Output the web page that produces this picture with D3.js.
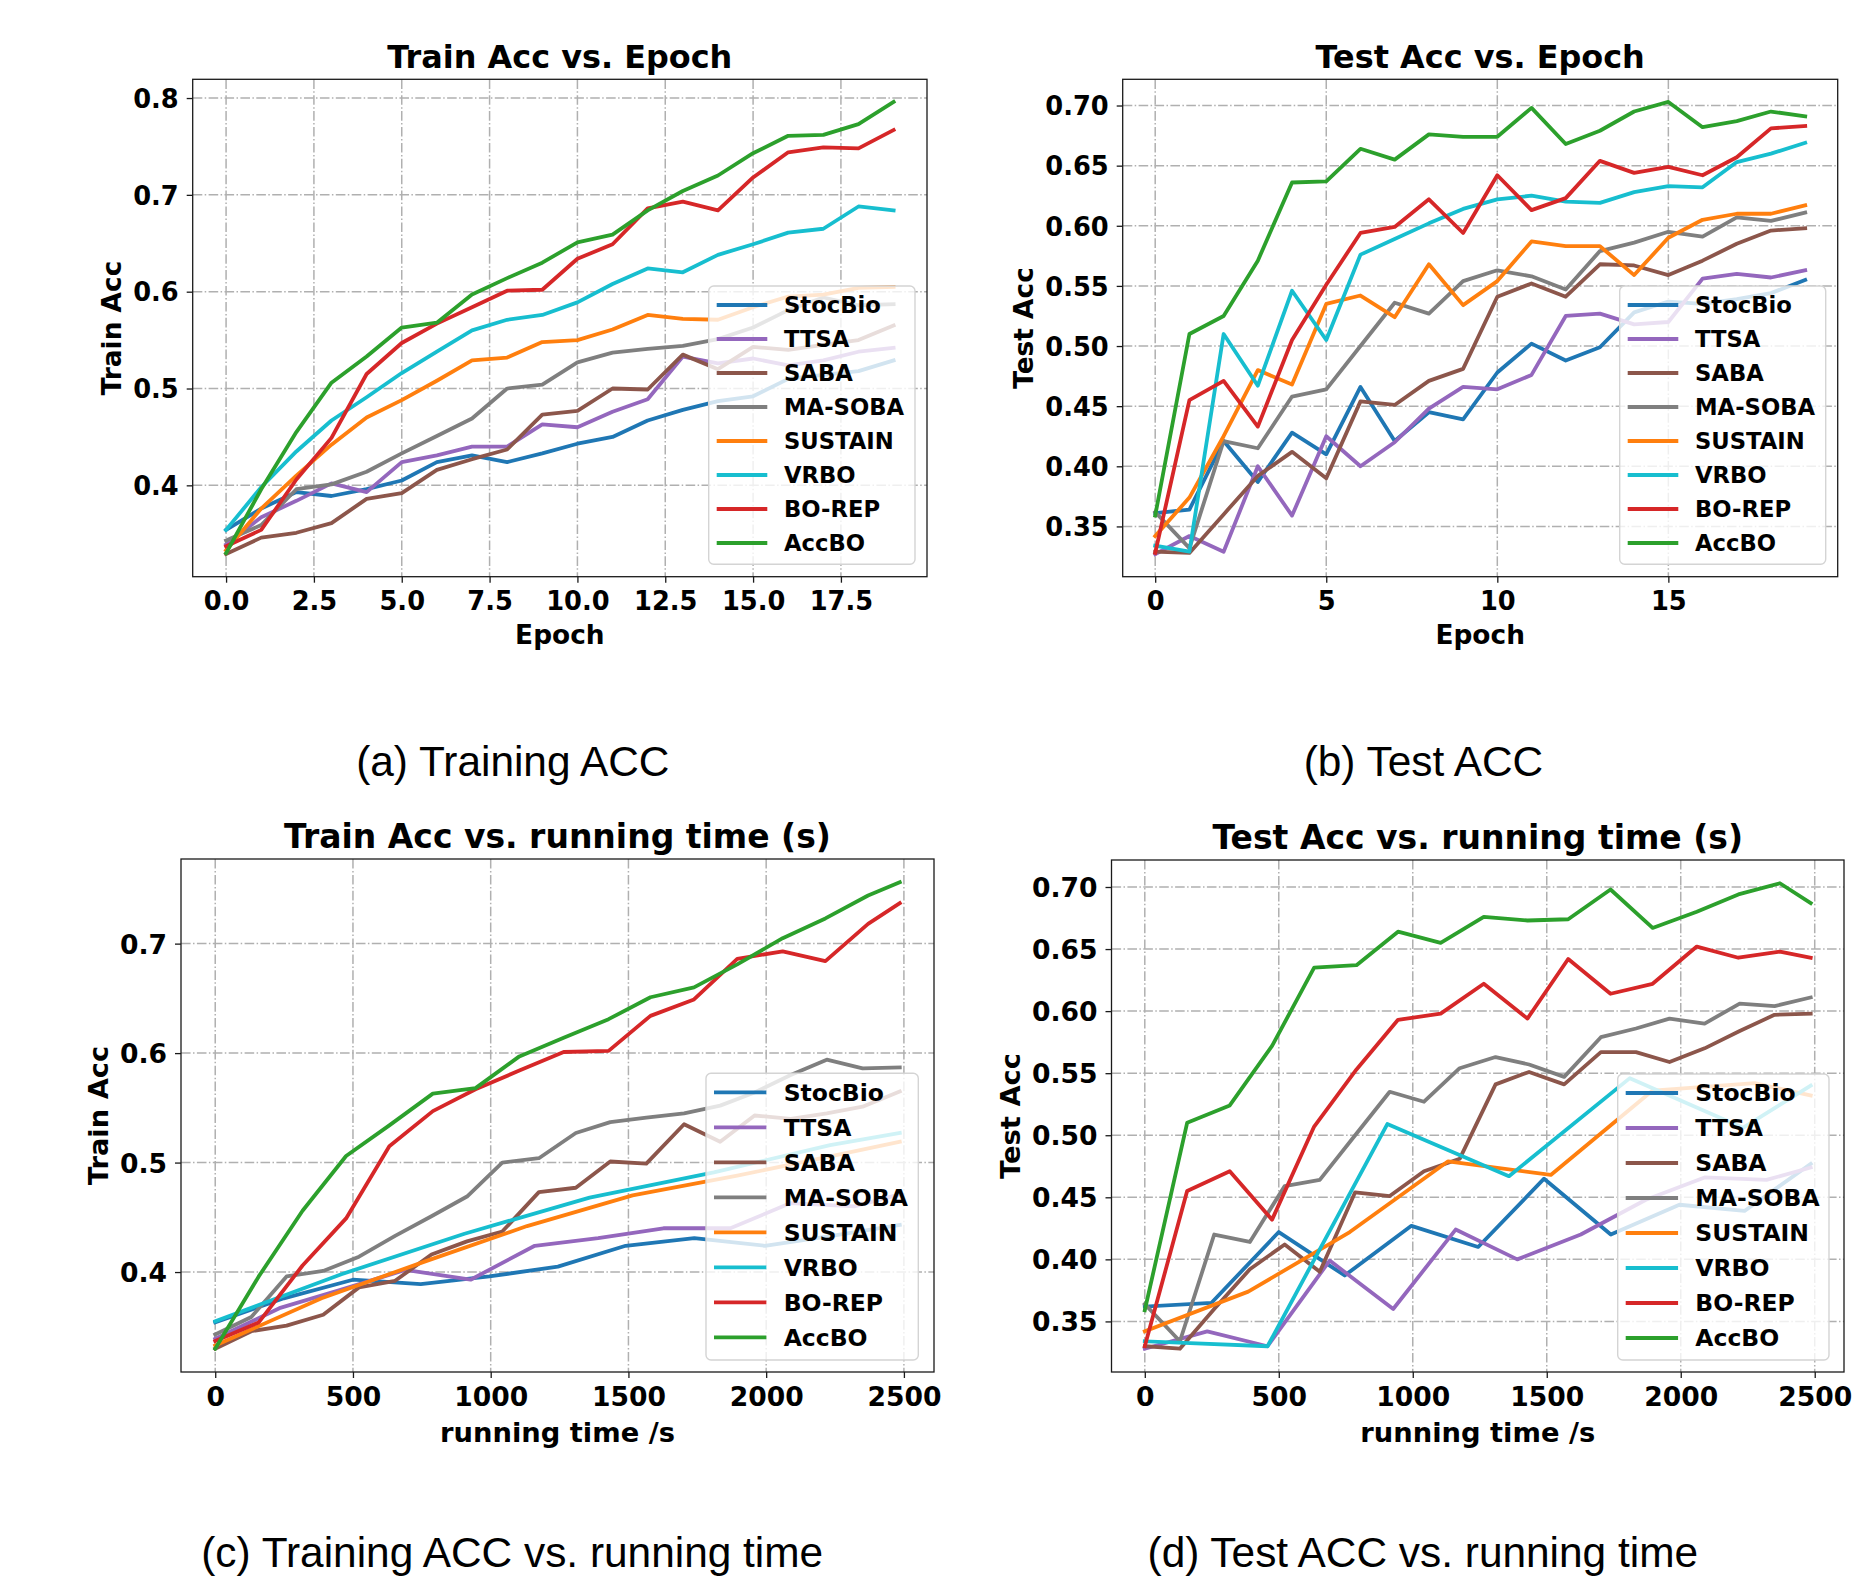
<!DOCTYPE html>
<html>
<head>
<meta charset="utf-8">
<script src="https://cdn.jsdelivr.net/npm/d3@7"></script>
<style>
body { margin: 0; background: #fff; }
svg { display: block; }
</style>
</head>
<body>
<svg id="fig"></svg>
<script>
// ---- data ----
const methods = ['StocBio', 'TTSA', 'SABA', 'MA-SOBA', 'SUSTAIN', 'VRBO', 'BO-REP', 'AccBO'];
const colors = ['#1f77b4', '#9467bd', '#8c564b', '#7f7f7f', '#ff7f0e', '#17becf', '#d62728', '#2ca02c'];

const epochs = [0, 1, 2, 3, 4, 5, 6, 7, 8, 9, 10, 11, 12, 13, 14, 15, 16, 17, 18, 19];

// (a) train acc per epoch, one row per method
const trainAccEpoch = [
    [0.354, 0.376, 0.393, 0.389, 0.396, 0.405, 0.424, 0.431, 0.424, 0.433, 0.443, 0.450, 0.467, 0.478, 0.487, 0.492, 0.510, 0.514, 0.518, 0.529],
    [0.339, 0.367, 0.384, 0.402, 0.393, 0.424, 0.431, 0.440, 0.440, 0.463, 0.460, 0.476, 0.489, 0.533, 0.526, 0.531, 0.524, 0.529, 0.538, 0.542],
    [0.329, 0.346, 0.351, 0.361, 0.386, 0.392, 0.416, 0.427, 0.437, 0.473, 0.477, 0.500, 0.499, 0.535, 0.520, 0.543, 0.540, 0.545, 0.550, 0.565],
    [0.343, 0.359, 0.396, 0.401, 0.414, 0.433, 0.451, 0.469, 0.500, 0.504, 0.527, 0.537, 0.541, 0.544, 0.551, 0.563, 0.581, 0.594, 0.586, 0.587],
    [0.333, 0.376, 0.410, 0.442, 0.470, 0.488, 0.508, 0.529, 0.532, 0.548, 0.550, 0.561, 0.576, 0.572, 0.571, 0.584, 0.595, 0.597, 0.604, 0.605],
    [0.354, 0.398, 0.435, 0.467, 0.491, 0.516, 0.538, 0.560, 0.571, 0.576, 0.589, 0.608, 0.624, 0.620, 0.638, 0.649, 0.661, 0.665, 0.688, 0.684],
    [0.337, 0.354, 0.406, 0.449, 0.515, 0.547, 0.567, 0.584, 0.601, 0.602, 0.634, 0.649, 0.686, 0.693, 0.684, 0.718, 0.744, 0.749, 0.748, 0.767],
    [0.330, 0.396, 0.455, 0.506, 0.533, 0.563, 0.568, 0.597, 0.614, 0.630, 0.651, 0.659, 0.684, 0.704, 0.720, 0.743, 0.761, 0.762, 0.773, 0.796]
];

// (b) test acc per epoch
const testAccEpoch = [
    [0.361, 0.364, 0.421, 0.387, 0.428, 0.410, 0.466, 0.421, 0.445, 0.439, 0.478, 0.502, 0.488, 0.499, 0.528, 0.537, 0.535, 0.539, 0.544, 0.555],
    [0.327, 0.342, 0.329, 0.400, 0.359, 0.425, 0.400, 0.420, 0.448, 0.466, 0.464, 0.476, 0.525, 0.527, 0.518, 0.520, 0.556, 0.560, 0.557, 0.563],
    [0.329, 0.328, 0.360, 0.392, 0.412, 0.390, 0.454, 0.451, 0.471, 0.481, 0.541, 0.552, 0.541, 0.568, 0.567, 0.559, 0.571, 0.585, 0.596, 0.598],
    [0.362, 0.332, 0.421, 0.415, 0.458, 0.464, 0.500, 0.536, 0.527, 0.554, 0.563, 0.558, 0.547, 0.579, 0.586, 0.595, 0.591, 0.607, 0.604, 0.611],
    [0.342, 0.374, 0.425, 0.480, 0.468, 0.535, 0.542, 0.524, 0.568, 0.534, 0.554, 0.587, 0.583, 0.583, 0.559, 0.590, 0.605, 0.610, 0.610, 0.617],
    [0.334, 0.329, 0.510, 0.467, 0.546, 0.505, 0.576, 0.589, 0.602, 0.614, 0.622, 0.625, 0.620, 0.619, 0.628, 0.633, 0.632, 0.653, 0.660, 0.669],
    [0.328, 0.455, 0.471, 0.433, 0.505, 0.551, 0.594, 0.599, 0.622, 0.594, 0.642, 0.613, 0.623, 0.654, 0.644, 0.649, 0.642, 0.657, 0.681, 0.683],
    [0.359, 0.510, 0.525, 0.571, 0.636, 0.637, 0.664, 0.655, 0.676, 0.674, 0.674, 0.698, 0.668, 0.679, 0.695, 0.703, 0.682, 0.687, 0.695, 0.691]
];

// running time (s) of each logged point, per method (cut at ~2500 s)
const runTime = [
    [0, 249, 500, 746, 995, 1244, 1490, 1739, 1995, 2238, 2485],
    [0, 233, 458, 690, 927, 1160, 1390, 1627, 1870, 2089, 2320, 2485],
    [0, 131, 259, 392, 522, 653, 785, 914, 1042, 1175, 1309, 1434, 1565, 1702, 1833, 1958, 2089, 2220, 2350, 2485],
    [0, 131, 259, 392, 522, 653, 785, 914, 1042, 1175, 1309, 1434, 1565, 1702, 1833, 1958, 2089, 2220, 2350, 2485],
    [0, 386, 765, 1132, 1515, 1895, 2276, 2485],
    [0, 458, 905, 1359, 1810, 2232, 2485],
    [0, 158, 317, 475, 632, 790, 945, 1104, 1265, 1428, 1580, 1738, 1895, 2060, 2215, 2370, 2485],
    [0, 158, 317, 475, 632, 790, 945, 1104, 1265, 1428, 1580, 1738, 1895, 2060, 2215, 2370, 2485]
];

// (c) train acc vs running time
const trainAccTime = [
    [0.354, 0.376, 0.393, 0.389, 0.396, 0.405, 0.424, 0.431, 0.424, 0.433, 0.443],
    [0.339, 0.367, 0.384, 0.402, 0.393, 0.424, 0.431, 0.440, 0.440, 0.463, 0.460, 0.471],
    [0.330, 0.346, 0.351, 0.361, 0.386, 0.392, 0.416, 0.428, 0.437, 0.473, 0.477, 0.501, 0.499, 0.535, 0.519, 0.543, 0.540, 0.545, 0.551, 0.565],
    [0.343, 0.359, 0.396, 0.401, 0.414, 0.433, 0.451, 0.469, 0.500, 0.504, 0.527, 0.537, 0.541, 0.545, 0.552, 0.564, 0.580, 0.594, 0.586, 0.587],
    [0.333, 0.376, 0.410, 0.442, 0.470, 0.488, 0.508, 0.519],
    [0.355, 0.398, 0.435, 0.468, 0.491, 0.516, 0.527],
    [0.337, 0.354, 0.406, 0.449, 0.515, 0.547, 0.567, 0.584, 0.601, 0.602, 0.634, 0.649, 0.686, 0.693, 0.684, 0.718, 0.737],
    [0.330, 0.396, 0.456, 0.506, 0.534, 0.563, 0.568, 0.597, 0.614, 0.631, 0.651, 0.660, 0.681, 0.705, 0.723, 0.744, 0.756]
];

// (d) test acc vs running time
const testAccTime = [
    [0.362, 0.365, 0.422, 0.387, 0.427, 0.410, 0.465, 0.420, 0.444, 0.439, 0.477],
    [0.328, 0.342, 0.330, 0.399, 0.360, 0.424, 0.400, 0.420, 0.448, 0.466, 0.464, 0.474],
    [0.330, 0.328, 0.360, 0.392, 0.412, 0.390, 0.454, 0.451, 0.471, 0.481, 0.541, 0.551, 0.541, 0.567, 0.567, 0.559, 0.570, 0.584, 0.597, 0.598],
    [0.364, 0.334, 0.420, 0.414, 0.459, 0.464, 0.500, 0.535, 0.527, 0.554, 0.563, 0.557, 0.547, 0.579, 0.586, 0.594, 0.590, 0.606, 0.604, 0.611],
    [0.342, 0.374, 0.422, 0.479, 0.468, 0.536, 0.542, 0.532],
    [0.334, 0.330, 0.509, 0.467, 0.546, 0.506, 0.540],
    [0.330, 0.455, 0.471, 0.432, 0.507, 0.553, 0.593, 0.598, 0.622, 0.594, 0.642, 0.614, 0.622, 0.652, 0.643, 0.648, 0.643],
    [0.359, 0.510, 0.524, 0.572, 0.635, 0.637, 0.664, 0.655, 0.676, 0.673, 0.674, 0.698, 0.667, 0.680, 0.694, 0.703, 0.687]
];

// tick values
const epochTicksA = [0, 2.5, 5, 7.5, 10, 12.5, 15, 17.5];
const epochTicksB = [0, 5, 10, 15];
const timeTicks = [0, 500, 1000, 1500, 2000, 2500];
const trainTicksA = [0.4, 0.5, 0.6, 0.7, 0.8];
const trainTicksC = [0.4, 0.5, 0.6, 0.7];
const testTicks = [0.35, 0.40, 0.45, 0.50, 0.55, 0.60, 0.65, 0.70];

const captions = ['(a) Training ACC', '(b) Test ACC', '(c) Training ACC vs. running time', '(d) Test ACC vs. running time'];

const FONT = '"DejaVu Sans", sans-serif';

class LineChart {
    constructor (config, data) {
        this.config = {
            parent: config.parent,
            left: config.left,
            top: config.top,
            width: config.width,
            height: config.height,
            title: config.title || '',
            xlabel: config.xlabel || '',
            ylabel: config.ylabel || '',
            xticks: config.xticks,
            yticks: config.yticks,
            xformat: config.xformat,
            yformat: config.yformat,
            scale: config.scale || 1,
            legend: config.legend
        };
        this.data = data;
        this.init();
    }

    init() {
        let self = this;
        const c = self.config;

        self.chart = c.parent.append('g')
            .attr('transform', `translate(${c.left}, ${c.top})`);

        self.grid_group = self.chart.append('g');
        self.line_group = self.chart.append('g');
        self.frame = self.chart.append('rect')
            .attr('width', c.width)
            .attr('height', c.height)
            .attr('fill', 'none')
            .attr('stroke', '#1a1a1a')
            .attr('stroke-width', 1.3);

        self.xaxis_group = self.chart.append('g')
            .attr('transform', `translate(0, ${c.height})`);
        self.yaxis_group = self.chart.append('g');
        self.legend_group = c.parent.append('g');

        self.xscale = d3.scaleLinear().range([0, c.width]);
        self.yscale = d3.scaleLinear().range([c.height, 0]);
    }

    update() {
        let self = this;

        // matplotlib style 5% margins around the data
        const xs = self.data.flatMap(d => d.x);
        const ys = self.data.flatMap(d => d.y);
        const [x0, x1] = d3.extent(xs);
        const [y0, y1] = d3.extent(ys);
        const xpad = (x1 - x0) * 0.05;
        const ypad = (y1 - y0) * 0.05;
        self.xscale.domain([x0 - xpad, x1 + xpad]);
        self.yscale.domain([y0 - ypad, y1 + ypad]);

        self.render();
    }

    render() {
        let self = this;
        const c = self.config;
        const s = c.scale;
        const tickFs = 25.7 * s;
        const labelFs = 26.4 * s;
        const titleFs = 31.9 * s;
        const legendFs = 22.7 * s;

        // grid
        const dash = '9.6,2.4,1.5,2.4';
        self.grid_group.selectAll('.vgrid')
            .data(c.xticks)
            .join('line')
            .attr('class', 'vgrid')
            .attr('x1', d => self.xscale(d))
            .attr('x2', d => self.xscale(d))
            .attr('y1', 0)
            .attr('y2', c.height)
            .attr('stroke', '#b0b0b0')
            .attr('stroke-width', 1.5)
            .attr('stroke-dasharray', dash);
        self.grid_group.selectAll('.hgrid')
            .data(c.yticks)
            .join('line')
            .attr('class', 'hgrid')
            .attr('x1', 0)
            .attr('x2', c.width)
            .attr('y1', d => self.yscale(d))
            .attr('y2', d => self.yscale(d))
            .attr('stroke', '#b0b0b0')
            .attr('stroke-width', 1.5)
            .attr('stroke-dasharray', dash);

        // series
        const line = d3.line()
            .x(p => self.xscale(p[0]))
            .y(p => self.yscale(p[1]));
        self.line_group.selectAll('path')
            .data(self.data)
            .join('path')
            .attr('d', d => line(d.x.map((v, i) => [v, d.y[i]])))
            .attr('fill', 'none')
            .attr('stroke', d => d.color)
            .attr('stroke-width', 3.8)
            .attr('stroke-linejoin', 'round')
            .attr('stroke-linecap', 'square');

        // axes
        self.xaxis = d3.axisBottom(self.xscale)
            .tickValues(c.xticks)
            .tickFormat(d3.format(c.xformat))
            .tickSize(6)
            .tickPadding(9 * s)
            .tickSizeOuter(0);
        self.yaxis = d3.axisLeft(self.yscale)
            .tickValues(c.yticks)
            .tickFormat(d3.format(c.yformat))
            .tickSize(6)
            .tickPadding(8)
            .tickSizeOuter(0);

        self.xaxis_group.call(self.xaxis);
        self.yaxis_group.call(self.yaxis);
        [self.xaxis_group, self.yaxis_group].forEach(g => {
            g.select('.domain').remove();
            g.selectAll('line').attr('stroke', '#1a1a1a').attr('stroke-width', 1.3);
            g.selectAll('text')
                .attr('fill', '#000')
                .style('font-family', FONT)
                .style('font-weight', 'bold')
                .style('font-size', tickFs + 'px');
        });
        self.yaxis_group.selectAll('text').attr('dy', '0.36em');

        // title and axis labels
        self.chart.append('text')
            .attr('x', c.width / 2)
            .attr('y', -11)
            .attr('text-anchor', 'middle')
            .style('font-family', FONT)
            .style('font-weight', 'bold')
            .style('font-size', titleFs + 'px')
            .text(c.title);

        self.chart.append('text')
            .attr('x', c.width / 2)
            .attr('y', c.height + 67.3 * s)
            .attr('text-anchor', 'middle')
            .style('font-family', FONT)
            .style('font-weight', 'bold')
            .style('font-size', labelFs + 'px')
            .text(c.xlabel);

        const ybox = self.yaxis_group.node().getBBox();
        self.chart.append('text')
            .attr('transform', `translate(${ybox.x - 12}, ${c.height / 2}) rotate(-90)`)
            .attr('text-anchor', 'middle')
            .style('font-family', FONT)
            .style('font-weight', 'bold')
            .style('font-size', labelFs + 'px')
            .text(c.ylabel);

        // legend
        const L = c.legend;
        self.legend_group.append('rect')
            .attr('x', L.x)
            .attr('y', L.y)
            .attr('width', L.w)
            .attr('height', L.h)
            .attr('rx', 5)
            .attr('fill', 'rgba(255,255,255,0.8)')
            .attr('stroke', '#d4d4d4')
            .attr('stroke-width', 1.4);

        const entries = self.legend_group.selectAll('.entry')
            .data(self.data)
            .join('g')
            .attr('class', 'entry')
            .attr('transform', (d, i) => `translate(${L.x + 8}, ${L.row0 + i * L.dy})`);
        entries.append('line')
            .attr('x1', 0)
            .attr('x2', 50.6 * s)
            .attr('stroke', d => d.color)
            .attr('stroke-width', 3.8);
        entries.append('text')
            .attr('x', 67.3 * s)
            .attr('dy', '0.36em')
            .style('font-family', FONT)
            .style('font-weight', 'bold')
            .style('font-size', legendFs + 'px')
            .text(d => d.name);
    }
}

const svg = d3.select('#fig')
    .attr('width', 1870)
    .attr('height', 1578);

svg.append('rect').attr('width', 1870).attr('height', 1578).attr('fill', '#fff');

function series(xs, values) {
    return methods.map((name, i) => ({
        name: name,
        color: colors[i],
        x: Array.isArray(xs[0]) ? xs[i] : xs,
        y: values[i]
    }));
}

const chartA = new LineChart({
    parent: svg, left: 192.7, top: 79.3, width: 734.3, height: 497.4,
    title: 'Train Acc vs. Epoch', xlabel: 'Epoch', ylabel: 'Train Acc',
    xticks: epochTicksA, yticks: trainTicksA, xformat: '.1f', yformat: '.1f',
    legend: {x: 708.7, y: 286, w: 206.3, h: 278.3, row0: 305, dy: 34}
}, series(epochs, trainAccEpoch));
chartA.update();

const chartB = new LineChart({
    parent: svg, left: 1122.7, top: 79.3, width: 715, height: 497.4,
    title: 'Test Acc vs. Epoch', xlabel: 'Epoch', ylabel: 'Test Acc',
    xticks: epochTicksB, yticks: testTicks, xformat: 'd', yformat: '.2f',
    legend: {x: 1619.7, y: 286, w: 206, h: 278.3, row0: 305, dy: 34}
}, series(epochs, testAccEpoch));
chartB.update();

const chartC = new LineChart({
    parent: svg, left: 181, top: 859, width: 753, height: 513,
    title: 'Train Acc vs. running time (s)', xlabel: 'running time /s', ylabel: 'Train Acc',
    xticks: timeTicks, yticks: trainTicksC, xformat: 'd', yformat: '.1f', scale: 1.035,
    legend: {x: 706, y: 1073.3, w: 212.3, h: 286.7, row0: 1092.3, dy: 35}
}, series(runTime, trainAccTime));
chartC.update();

const chartD = new LineChart({
    parent: svg, left: 1111.5, top: 860, width: 732.5, height: 512,
    title: 'Test Acc vs. running time (s)', xlabel: 'running time /s', ylabel: 'Test Acc',
    xticks: timeTicks, yticks: testTicks, xformat: 'd', yformat: '.2f', scale: 1.035,
    legend: {x: 1617.7, y: 1074, w: 211.3, h: 286, row0: 1093, dy: 35}
}, series(runTime, testAccTime));
chartD.update();

// subfigure captions
const capPos = [[512.8, 776], [1423.4, 776], [512.2, 1567], [1422.8, 1567]];
svg.selectAll('.caption')
    .data(captions)
    .join('text')
    .attr('class', 'caption')
    .attr('x', (d, i) => capPos[i][0])
    .attr('y', (d, i) => capPos[i][1])
    .attr('text-anchor', 'middle')
    .style('font-family', '"Liberation Sans", Arial, sans-serif')
    .style('font-size', '42.4px')
    .text(d => d);
</script>
</body>
</html>
